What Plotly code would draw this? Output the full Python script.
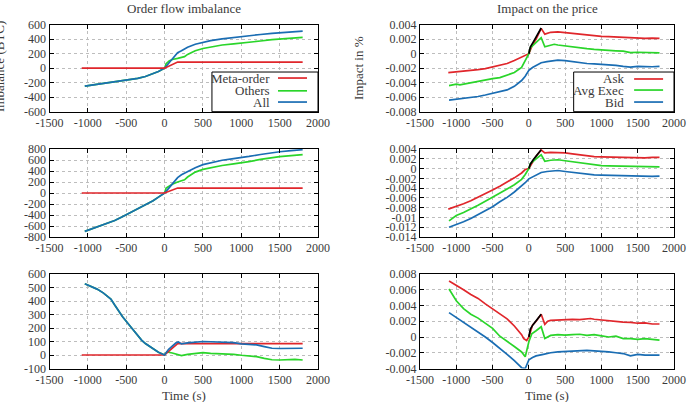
import plotly.graph_objects as go
from plotly.subplots import make_subplots

# ---------------- data ----------------
# Left column: order flow imbalance (BTC)
meta_t = [-1080, 0, 170, 1800]
meta_L1 = [0, 0, 85, 85]
meta_L2 = [0, 0, 90, 90]
meta_L3 = [0, 0, 85, 85]

all_t_L1 = [-1040, -950, -850, -750, -650, -550, -450, -350, -250, -150, -80, 0, 50, 100, 170, 220, 300, 400,
            500, 600, 750, 900, 1000, 1100, 1250, 1400, 1500, 1650, 1800]
all_L1 = [-248, -235, -220, -205, -190, -175, -158, -140, -115, -80, -45, 0, 60, 120, 215, 240, 290, 330,
          360, 380, 405, 425, 435, 450, 465, 480, 490, 500, 512]
oth_t_L1 = [-1040, -950, -850, -750, -650, -550, -450, -350, -250, -150, -80, 0, 20, 60, 100, 170, 220, 260, 300,
            400, 500, 600, 750, 900, 1000, 1100, 1250, 1400, 1500, 1650, 1800]
oth_L1 = [-248, -235, -220, -205, -190, -175, -158, -140, -115, -80, -45, 0, 60, 100, 120, 135, 145, 160, 190,
          240, 272, 295, 320, 335, 345, 355, 375, 395, 405, 415, 425]

all_t_L2 = [-1040, -950, -850, -750, -650, -550, -450, -350, -250, -150, -80, 0, 50, 100, 170, 220, 300, 400,
            500, 600, 750, 900, 1000, 1100, 1250, 1400, 1500, 1650, 1800]
all_L2 = [-697, -650, -600, -560, -500, -430, -360, -290, -225, -140, -75, 0, 80, 170, 280, 330, 390, 460,
          515, 550, 595, 625, 640, 665, 700, 735, 750, 770, 788]
oth_t_L2 = [-1040, -950, -850, -750, -650, -550, -450, -350, -250, -150, -80, 0, 20, 60, 100, 170, 220, 260, 300,
            400, 500, 600, 750, 900, 1000, 1100, 1250, 1400, 1500, 1650, 1800]
oth_L2 = [-697, -650, -600, -560, -500, -430, -360, -290, -225, -140, -75, 0, 90, 130, 160, 200, 215, 240, 290,
          380, 430, 460, 500, 530, 545, 570, 610, 645, 660, 680, 698]

all_t_L3 = [-1040, -950, -880, -800, -750, -700, -650, -600, -550, -450, -350, -300, -250, -150, -80, 0, 50, 100,
            150, 180, 220, 300, 400, 500, 600, 700, 800, 900, 1000, 1100, 1200, 1300, 1400, 1500, 1600, 1700, 1800]
all_L3 = [528, 505, 488, 460, 440, 415, 370, 330, 285, 215, 140, 110, 85, 50, 20, 0, 40, 65,
          90, 97, 82, 90, 95, 100, 98, 96, 95, 92, 82, 80, 75, 62, 50, 48, 48, 52, 50]
oth_t_L3 = [-1040, -950, -880, -800, -750, -700, -650, -600, -550, -450, -350, -300, -250, -150, -80, 0, 30, 100,
            170, 220, 300, 400, 500, 600, 700, 800, 900, 1000, 1100, 1200, 1300, 1400, 1500, 1600, 1700, 1800]
oth_L3 = [528, 505, 488, 460, 440, 415, 370, 330, 285, 215, 140, 110, 85, 50, 20, 0, 22, 15,
          5, -5, 5, 10, 17, 12, 10, 8, 5, -2, -5, -12, -25, -35, -37, -33, -32, -37]

# Right column: impact on the price (%)
ask_t_R1 = [-1110, -1000, -900, -800, -700, -600, -500, -400, -300, -200, -100, -30, 0, 50, 100, 170, 220, 300,
            400, 500, 600, 700, 800, 900, 1000, 1100, 1200, 1300, 1400, 1500, 1600, 1700, 1800]
ask_R1 = [-0.0026, -0.0025, -0.00245, -0.00235, -0.0022, -0.00205, -0.00185, -0.00165, -0.00135, -0.00095,
          -0.00045, -0.0001, 0.0, 0.0012, 0.002, 0.0035, 0.0027, 0.00295, 0.003, 0.0029, 0.00285, 0.0027, 0.0026,
          0.00245, 0.0024, 0.00235, 0.0023, 0.0022, 0.0021, 0.0021, 0.0021, 0.00215, 0.0021]
exe_t = [0, 20, 60, 100, 140, 170]
exe_R1 = [0.0, 0.0009, 0.0016, 0.0023, 0.003, 0.00355]
avg_t_R1 = [-1100, -1000, -950, -900, -800, -700, -600, -500, -400, -300, -200, -100, -50, 0, 20, 60, 100, 170,
            220, 300, 350, 400, 500, 600, 700, 800, 900, 1000, 1100, 1200, 1300, 1400, 1500, 1600, 1700, 1800]
avg_R1 = [-0.0044, -0.0042, -0.0043, -0.0042, -0.004, -0.0038, -0.0036, -0.00345, -0.0033, -0.003, -0.0026,
          -0.0019, -0.001, 0.0, 0.0008, 0.0012, 0.0016, 0.0022, 0.00095, 0.00115, 0.0013, 0.0012, 0.00105,
          0.00095, 0.0008, 0.0007, 0.0006, 0.0005, 0.00045, 0.0004, 0.00035, 0.00015, 0.0002, 0.00015, 0.0001,
          0.0001]
bid_t_R1 = [-1100, -1000, -900, -800, -700, -600, -500, -400, -300, -200, -100, -50, 0, 50, 100, 170, 250, 300,
            400, 500, 600, 700, 800, 900, 1000, 1100, 1200, 1300, 1400, 1500, 1600, 1700, 1800]
bid_R1 = [-0.0064, -0.0063, -0.0062, -0.0061, -0.0059, -0.0057, -0.0055, -0.0053, -0.005, -0.0045, -0.0037,
          -0.0031, -0.0023, -0.0019, -0.0016, -0.00125, -0.0011, -0.001, -0.0009, -0.00095, -0.0011, -0.0012,
          -0.00135, -0.0014, -0.00145, -0.0015, -0.0016, -0.00175, -0.00185, -0.00175, -0.0018, -0.0018, -0.00175]

ask_t_R2 = [-1110, -1000, -900, -800, -700, -600, -500, -400, -300, -200, -100, -50, 0, 50, 100, 170, 220, 300,
            400, 500, 600, 700, 800, 900, 1000, 1100, 1200, 1300, 1400, 1500, 1600, 1700, 1800]
ask_R2 = [-0.0083, -0.0078, -0.0072, -0.0066, -0.0059, -0.0052, -0.0044, -0.0036, -0.0028, -0.0019, -0.0009,
          -0.0002, 0.0, 0.0013, 0.0025, 0.0038, 0.0032, 0.0033, 0.0033, 0.0032, 0.003, 0.0028, 0.0026, 0.00245,
          0.0024, 0.00235, 0.0023, 0.0023, 0.0022, 0.00215, 0.0022, 0.0023, 0.0023]
exe_R2 = [0.0, 0.0009, 0.0018, 0.0026, 0.0033, 0.00385]
avg_t_R2 = [-1100, -1050, -1000, -900, -800, -700, -600, -500, -400, -300, -200, -100, -50, 0, 20, 60, 100, 170,
            220, 300, 400, 500, 600, 700, 800, 900, 1000, 1100, 1200, 1300, 1400, 1500, 1600, 1700, 1800]
avg_R2 = [-0.0107, -0.0102, -0.0096, -0.009, -0.0083, -0.0075, -0.0067, -0.0059, -0.0051, -0.0042, -0.0033,
          -0.0022, -0.0012, 0.0, 0.001, 0.0016, 0.002, 0.0028, 0.0015, 0.0017, 0.0018, 0.0016, 0.0014, 0.0012,
          0.0009, 0.0007, 0.0006, 0.00055, 0.0005, 0.0005, 0.00045, 0.0004, 0.0004, 0.00035, 0.00035]
bid_t_R2 = [-1100, -1000, -900, -800, -700, -600, -500, -400, -300, -200, -100, -50, 0, 50, 100, 170, 250, 300,
            400, 500, 600, 700, 800, 900, 1000, 1100, 1200, 1300, 1400, 1500, 1600, 1700, 1800]
bid_R2 = [-0.012, -0.0115, -0.0109, -0.0102, -0.0094, -0.0086, -0.0078, -0.0068, -0.0059, -0.0048, -0.0036,
          -0.0029, -0.0021, -0.0017, -0.0012, -0.0008, -0.0006, -0.0005, -0.0004, -0.0006, -0.0008, -0.001,
          -0.0012, -0.0013, -0.00135, -0.0014, -0.00145, -0.0015, -0.0016, -0.00165, -0.00165, -0.0016, -0.00155]

ask_t_R3 = [-1100, -1000, -900, -800, -700, -600, -500, -400, -300, -200, -150, -100, -70, -30, 0, 50, 100, 170,
            220, 260, 300, 400, 500, 600, 700, 800, 850, 900, 1000, 1100, 1200, 1300, 1400, 1500, 1600, 1700, 1800]
ask_R3 = [0.0071, 0.0066, 0.006, 0.0054, 0.0049, 0.0042, 0.0036, 0.003, 0.0023, 0.0014, 0.0009, 0.0003,
          -0.0002, -0.00045, 0.0, 0.0015, 0.002, 0.0029, 0.0016, 0.002, 0.0021, 0.00215, 0.0022, 0.00225, 0.0022,
          0.0023, 0.00235, 0.00225, 0.00215, 0.0021, 0.00195, 0.0019, 0.00185, 0.00175, 0.0018, 0.00165, 0.00165]
exe_R3 = [0.0, 0.001, 0.0016, 0.0021, 0.0025, 0.0029]
avg_t_R3 = [-1100, -1050, -1000, -900, -800, -700, -600, -500, -400, -300, -200, -100, -50, 0, 40, 100, 170, 220,
            300, 400, 500, 600, 700, 800, 900, 1000, 1100, 1200, 1300, 1400, 1500, 1600, 1700, 1800]
avg_R3 = [0.0061, 0.0053, 0.0046, 0.0036, 0.0029, 0.0024, 0.0017, 0.0011, 0.0001, -0.0005, -0.0012, -0.0019,
          -0.0025, -0.0006, 0.0004, 0.0008, 0.0013, -0.0002, 0.0002, 0.0003, 0.00025, 0.0003, 0.00035, 0.0002,
          0.0003, 0.00015, 0.0, 0.0001, -0.0002, -0.0002, -0.0003, -0.0002, -0.0003, -0.0004]
bid_t_R3 = [-1100, -1000, -900, -800, -700, -600, -500, -400, -300, -200, -150, -100, -50, 0, 50, 100, 200, 300,
            400, 500, 600, 700, 800, 900, 1000, 1100, 1200, 1300, 1400, 1500, 1600, 1700, 1800]
bid_R3 = [0.0031, 0.0025, 0.0019, 0.0012, 0.0007, 0.0, -0.0007, -0.0014, -0.0022, -0.003, -0.0035, -0.0039,
          -0.004, -0.0029, -0.0026, -0.0024, -0.0022, -0.002, -0.0019, -0.00185, -0.00185, -0.0018, -0.0017,
          -0.00175, -0.0018, -0.0019, -0.002, -0.0021, -0.0024, -0.0022, -0.0023, -0.0023, -0.0023]

# tick labels
x_ticks = [-1500, -1000, -500, 0, 500, 1000, 1500, 2000]
x_ticktext = ["-1500", "-1000", "-500", "0", "500", "1000", "1500", "2000"]
yL1_ticks = [-600, -400, -200, 0, 200, 400, 600]
yL1_text = ["-600", "-400", "-200", "0", "200", "400", "600"]
yL2_ticks = [-800, -600, -400, -200, 0, 200, 400, 600, 800]
yL2_text = ["-800", "-600", "-400", "-200", "0", "200", "400", "600", "800"]
yL3_ticks = [-100, 0, 100, 200, 300, 400, 500, 600]
yL3_text = ["-100", "0", "100", "200", "300", "400", "500", "600"]
yR1_ticks = [-0.008, -0.006, -0.004, -0.002, 0, 0.002, 0.004]
yR1_text = ["-0.008", "-0.006", "-0.004", "-0.002", "0", "0.002", "0.004"]
yR2_ticks = [-0.014, -0.012, -0.01, -0.008, -0.006, -0.004, -0.002, 0, 0.002, 0.004]
yR2_text = ["-0.014", "-0.012", "-0.01", "-0.008", "-0.006", "-0.004", "-0.002", "0", "0.002", "0.004"]
yR3_ticks = [-0.004, -0.002, 0, 0.002, 0.004, 0.006, 0.008]
yR3_text = ["-0.004", "-0.002", "0", "0.002", "0.004", "0.006", "0.008"]

left_names = ["Meta-order", "Others", "All"]
right_names = ["Ask", "Avg Exec", "Bid"]

# ---------------- style ----------------
RED = "#e0262b"
GREEN = "#2ad52a"
BLUE = "#1a6db3"
BLACK = "#000000"
FONT = "Liberation Serif"
TXT = "#3a3a3a"
LW = 1.7

W, H = 693, 402
colL = (49.5, 318.0)
colR = (420.0, 674.0)
rows = [(24.7, 111.7), (149.0, 237.0), (274.0, 368.5)]


def xd(c):
    return [c[0] / W, c[1] / W]


def yd(r):
    return [(H - r[1]) / H, (H - r[0]) / H]


fig = make_subplots(rows=3, cols=2)


def add(t, v, color, row, col):
    fig.add_trace(go.Scatter(x=t, y=v, mode="lines", line=dict(color=color, width=LW),
                             showlegend=False, hoverinfo="skip"), row=row, col=col)


# left column (Others under All, Meta-order on top)
add(oth_t_L1, oth_L1, GREEN, 1, 1)
add(all_t_L1, all_L1, BLUE, 1, 1)
add(meta_t, meta_L1, RED, 1, 1)
add(oth_t_L2, oth_L2, GREEN, 2, 1)
add(all_t_L2, all_L2, BLUE, 2, 1)
add(meta_t, meta_L2, RED, 2, 1)
add(oth_t_L3, oth_L3, GREEN, 3, 1)
add(meta_t, meta_L3, RED, 3, 1)
add(all_t_L3, all_L3, BLUE, 3, 1)

# right column
for (at, a, gt, g, bt, b, e, r) in [
    (ask_t_R1, ask_R1, avg_t_R1, avg_R1, bid_t_R1, bid_R1, exe_R1, 1),
    (ask_t_R2, ask_R2, avg_t_R2, avg_R2, bid_t_R2, bid_R2, exe_R2, 2),
    (ask_t_R3, ask_R3, avg_t_R3, avg_R3, bid_t_R3, bid_R3, exe_R3, 3),
]:
    add(at, a, RED, r, 2)
    add(gt, g, GREEN, r, 2)
    add(bt, b, BLUE, r, 2)
    add(exe_t, e, BLACK, r, 2)

axis_common = dict(
    showline=True, linecolor="black", linewidth=1, mirror="ticks",
    ticks="inside", ticklen=4, tickcolor="black",
    showgrid=True, gridcolor="#bdbdbd", griddash="dot", gridwidth=1,
    zeroline=False, automargin=False, tickfont=dict(family=FONT, size=12, color=TXT),
)

yspecs = [
    (yL1_ticks, yL1_text, [-600, 600]),
    (yR1_ticks, yR1_text, [-0.008, 0.004]),
    (yL2_ticks, yL2_text, [-800, 800]),
    (yR2_ticks, yR2_text, [-0.014, 0.004]),
    (yL3_ticks, yL3_text, [-100, 600]),
    (yR3_ticks, yR3_text, [-0.004, 0.008]),
]
for i in range(6):
    r = i // 2
    c = i % 2
    sx = "" if i == 0 else str(i + 1)
    fig.layout["xaxis" + sx].update(
        domain=xd(colL if c == 0 else colR), range=[-1500, 2000],
        tickvals=x_ticks, ticktext=x_ticktext, **axis_common)
    tv, tt, rg = yspecs[i]
    fig.layout["yaxis" + sx].update(
        domain=yd(rows[r]), range=rg, tickvals=tv, ticktext=tt, **axis_common)

# ---------------- legends (gnuplot style: text then sample) ----------------
shapes = []
annotations = []


def legend(xr, yr, names, colors, text_x, line_x0, line_x1, ys):
    shapes.append(dict(type="rect", xref=xr + " domain", yref=yr + " domain",
                       x0=0.605, x1=1.0, y0=0.0, y1=0.456,
                       line=dict(color="black", width=1), fillcolor="white", layer="above"))
    for n, col, yy in zip(names, colors, ys):
        annotations.append(dict(text=n, xref=xr + " domain", yref=yr + " domain", x=text_x, y=yy,
                                xanchor="right", yanchor="middle", showarrow=False,
                                font=dict(family=FONT, size=13, color=TXT)))
        shapes.append(dict(type="line", xref=xr + " domain", yref=yr + " domain",
                           x0=line_x0, x1=line_x1, y0=yy, y1=yy,
                           line=dict(color=col, width=LW), layer="above"))


legend("x", "y", left_names, [RED, GREEN, BLUE], 0.828, 0.851, 0.959, [0.387, 0.24, 0.111])
legend("x2", "y2", right_names, [RED, GREEN, BLUE], 0.811, 0.843, 0.957, [0.376, 0.249, 0.111])

# titles and axis labels
def ptext(text, px, py, angle=0, size=13):
    annotations.append(dict(text=text, xref="paper", yref="paper", x=px / W, y=(H - py) / H,
                            xanchor="center", yanchor="middle", showarrow=False, textangle=angle,
                            font=dict(family=FONT, size=size, color=TXT)))


ptext("Order flow imbalance", 184, 8)
ptext("Impact on the price", 547, 8)
ptext("Imbalance (BTC)", 0, 67, angle=-90)
ptext("Impact in %", 358, 68, angle=-90)
ptext("Time (s)", 184, 395)
ptext("Time (s)", 547, 395)

fig.update_layout(
    width=W, height=H, margin=dict(l=0, r=0, t=0, b=0, autoexpand=False),
    paper_bgcolor="white", plot_bgcolor="white",
    showlegend=False, shapes=shapes, annotations=annotations,
    font=dict(family=FONT, color=TXT),
)

fig.write_html("out.html", config={"displayModeBar": False, "staticPlot": True},
               post_script="document.body.style.margin='0px';document.body.style.padding='0px';")
